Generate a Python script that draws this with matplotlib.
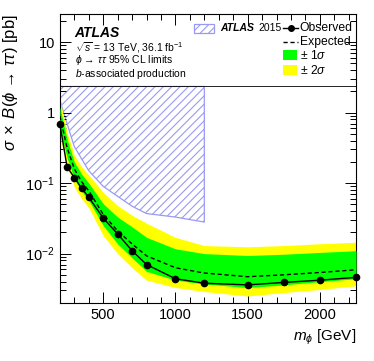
import matplotlib
matplotlib.use("Agg")
import matplotlib.pyplot as plt
from matplotlib.ticker import FixedLocator, LogLocator, NullFormatter, MultipleLocator
from matplotlib.patches import Rectangle
from matplotlib.lines import Line2D

plt.rcParams['font.family'] = ['Liberation Sans', 'DejaVu Sans']
plt.rcParams['mathtext.fontset'] = 'custom'
plt.rcParams['mathtext.rm'] = 'Liberation Sans'
plt.rcParams['mathtext.it'] = 'Liberation Sans:italic'
plt.rcParams['mathtext.bf'] = 'Liberation Sans:bold:italic'
plt.rcParams['hatch.linewidth'] = 0.8

# masses [GeV]
mass = [200, 250, 300, 350, 400, 500, 600, 700, 800, 1000, 1200, 1500, 1750, 2000, 2250]
observed = [0.69, 0.17, 0.12, 0.085, 0.063, 0.032, 0.019, 0.011, 0.007, 0.0044, 0.0038, 0.0036, 0.0039, 0.0042, 0.0046]
expected = [0.9, 0.32, 0.16, 0.105, 0.078, 0.036, 0.021, 0.0137, 0.0093, 0.0063, 0.0053, 0.0047, 0.005, 0.0054, 0.0059]
up1 = [1.2, 0.42, 0.2, 0.135, 0.1, 0.051, 0.033, 0.024, 0.017, 0.0117, 0.010, 0.0094, 0.0098, 0.0104, 0.011]
dn1 = [0.6, 0.23, 0.115, 0.077, 0.057, 0.025, 0.0137, 0.0087, 0.0056, 0.0042, 0.0037, 0.0033, 0.0036, 0.004, 0.0044]
up2 = [1.55, 0.52, 0.25, 0.17, 0.13, 0.074, 0.048, 0.035, 0.027, 0.017, 0.013, 0.0125, 0.013, 0.0138, 0.0145]
dn2 = [0.45, 0.18, 0.088, 0.06, 0.045, 0.018, 0.01, 0.0063, 0.0042, 0.0033, 0.0029, 0.0025, 0.0028, 0.0031, 0.0035]

# ATLAS 2015 excluded region
old_mass = [200, 250, 300, 400, 500, 600, 700, 800, 1000, 1200]
old_limit = [1.5, 0.7, 0.33, 0.15, 0.09, 0.065, 0.047, 0.037, 0.033, 0.028]
legend_cut = 2.35

fig = plt.figure(figsize=(3.74, 3.61), dpi=100)
ax = fig.add_axes([0.160, 0.161, 0.792, 0.800])

ax.fill_between(old_mass, old_limit, legend_cut, facecolor='none', edgecolor='#9a9af5', hatch='////', linewidth=0.9, zorder=1)
ax.fill_between(mass, dn2, up2, color='#ffff00', linewidth=0, zorder=2)
ax.fill_between(mass, dn1, up1, color='#00ff00', linewidth=0, zorder=3)
ax.plot(mass, expected, 'k--', lw=1.0, dashes=(3, 2), zorder=4)
ax.plot(mass, observed, 'k-', marker='o', ms=4.5, lw=1.0, zorder=5, clip_on=False)
ax.axhline(legend_cut, color='black', lw=0.6, zorder=6)

ax.set_yscale('log')
ax.set_xlim(200, 2250)
ax.set_ylim(0.002, 25)

ax.xaxis.set_major_locator(FixedLocator([500, 1000, 1500, 2000]))
ax.xaxis.set_minor_locator(MultipleLocator(100))
ax.yaxis.set_major_locator(FixedLocator([0.01, 0.1, 1, 10]))
ax.yaxis.set_minor_locator(LogLocator(base=10, subs=range(2, 10)))
ax.yaxis.set_minor_formatter(NullFormatter())
ax.set_yticklabels([r'$10^{-2}$', r'$10^{-1}$', '1', '10'])
ax.tick_params(which='both', direction='in', top=True, right=True, labelsize=10.5, width=0.7)
ax.tick_params(which='major', length=8)
ax.tick_params(which='minor', length=4)
for s in ax.spines.values():
    s.set_linewidth(0.8)

ax.set_xlabel(r'$m_{\phi}$ [GeV]', loc='right', fontsize=11)
ax.set_ylabel(r'$\sigma\;\times\;B(\phi\,\rightarrow\,\tau\tau)$ [pb]', loc='top', fontsize=12)

# ATLAS label
ax.text(0.05, 0.935, 'ATLAS', transform=ax.transAxes, fontsize=10, fontweight='bold', fontstyle='italic', va='center')
ax.text(0.05, 0.885, r'$\sqrt{s}$ = 13 TeV, 36.1 fb$^{-1}$', transform=ax.transAxes, fontsize=7.5, va='center')
ax.text(0.05, 0.84, r'$\phi\,\rightarrow\,\tau\tau$ 95% CL limits', transform=ax.transAxes, fontsize=7.5, va='center')
ax.text(0.05, 0.792, r'$b$-associated production', transform=ax.transAxes, fontsize=7.5, va='center')

# legend
ax.add_patch(Rectangle((0.453, 0.935), 0.068, 0.032, transform=ax.transAxes, facecolor='none',
                       edgecolor='#9a9af5', hatch='////', lw=0.9, zorder=7))
ax.text(0.54, 0.952, 'ATLAS', transform=ax.transAxes, fontsize=7.5, fontweight='bold', fontstyle='italic', va='center')
ax.text(0.67, 0.952, '2015', transform=ax.transAxes, fontsize=7.5, va='center')
ax.add_line(Line2D([0.755, 0.805], [0.952, 0.952], transform=ax.transAxes, color='k', lw=1.0, zorder=7))
ax.add_line(Line2D([0.78], [0.952], transform=ax.transAxes, color='k', marker='o', ms=4, zorder=7))
ax.text(0.81, 0.952, 'Observed', transform=ax.transAxes, fontsize=8.7, va='center')
ax.add_line(Line2D([0.755, 0.805], [0.905, 0.905], transform=ax.transAxes, color='k', lw=1.0, ls='--',
                   dashes=(3, 2), zorder=7))
ax.text(0.81, 0.905, 'Expected', transform=ax.transAxes, fontsize=8.7, va='center')
ax.add_patch(Rectangle((0.755, 0.84), 0.045, 0.036, transform=ax.transAxes, facecolor='#00ff00', lw=0, zorder=7))
ax.text(0.81, 0.858, r'$\pm$ 1$\sigma$', transform=ax.transAxes, fontsize=8.7, va='center')
ax.add_patch(Rectangle((0.755, 0.788), 0.045, 0.036, transform=ax.transAxes, facecolor='#ffff00', lw=0, zorder=7))
ax.text(0.81, 0.806, r'$\pm$ 2$\sigma$', transform=ax.transAxes, fontsize=8.7, va='center')

fig.savefig('out.png', dpi=100)
